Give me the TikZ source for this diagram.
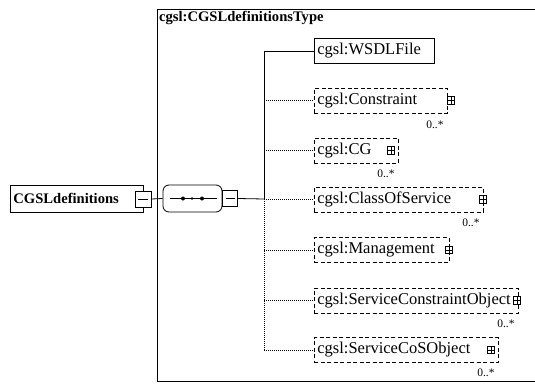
\documentclass[tikz,border=0pt]{standalone}
\usepackage{fontspec}
\setmainfont{Liberation Serif}
\begin{document}
\begin{tikzpicture}[x=1pt,y=-1pt,
  every node/.style={inner sep=0pt},
  conn/.style={line width=0.8pt},
  optconn/.style={line width=0.8pt, dash pattern=on 1pt off 1pt},
  elbox/.style={draw, line width=0.8pt, minimum height=25pt, anchor=west, inner xsep=3pt, align=left, font=\fontsize{16.5}{18}\selectfont},
  optbox/.style={elbox, dash pattern=on 4pt off 2.5pt},
  plusicon/.style={draw, fill=white, line width=0.7pt, minimum size=7.5pt,
    path picture={\draw[line width=0.6pt] (path picture bounding box.north) -- (path picture bounding box.south)
      (path picture bounding box.west) -- (path picture bounding box.east);}},
  minusbox/.style={draw, fill=white, line width=0.8pt, minimum width=15pt, minimum height=16pt,
    path picture={\draw[line width=0.8pt] ([xshift=3pt]path picture bounding box.west) -- ([xshift=-3pt]path picture bounding box.east);}},
  mult/.style={font=\fontsize{11.5}{12}\selectfont, anchor=east},
  boldtext/.style={font=\bfseries\fontsize{14.6}{16}\selectfont}
]
\useasboundingbox (0,0) rectangle (535,383);
% outer complex type box
\draw[conn] (540,9) -- (157,9) -- (157,381) -- (540,381);
\node[boldtext, anchor=base west] (title) at (159,21) {cgsl:CGSLdefinitionsType};

% root element
\node[draw, line width=0.8pt, boldtext, minimum width=133pt, minimum height=27pt, anchor=west,
  inner xsep=3pt, text width=127pt, align=left] (root) at (10,198.5) {CGSLdefinitions};
\node[minusbox, minimum width=16pt] (rm) at (143,199) {};

% sequence compositor
\node[draw, line width=0.8pt, rounded corners=6pt, minimum width=59pt, minimum height=27pt] (seq) at (192.5,198.5) {};
\node[minusbox, anchor=west] (sm) at (seq.east) {};
\draw[conn] ([xshift=7pt]seq.west) -- ([xshift=-5pt]seq.east);
\fill ([xshift=-9.5pt]seq.center) circle (2pt);
\fill ([xshift=-0.5pt]seq.center) circle (1.4pt);
\fill ([xshift=9.5pt]seq.center) circle (2pt);

\coordinate (J) at (264,199);
\draw[conn] (rm.east) -- (seq.west);
\draw[conn] (sm.east) -- (J);

% children
\node[elbox, text width=114pt] (ws) at (314,51) {cgsl:WSDLFile};
\node[optbox, text width=127pt] (con) at (314,100.5) {cgsl:Constraint};
\node[optbox, text width=78pt] (cg) at (314,150.5) {cgsl:CG};
\node[optbox, text width=163pt] (cls) at (314,199.5) {cgsl:ClassOfService};
\node[optbox, text width=129pt] (mgmt) at (314,250) {cgsl:Management};
\node[optbox, text width=198pt] (sco) at (314,300.5) {cgsl:ServiceConstraintObject};
\node[optbox, text width=178pt] (scos) at (314,350) {cgsl:ServiceCoSObject};

% vertical connector
\draw[conn] (J |- ws.west) -- (J);
\draw[optconn] (J) -- (J |- scos.west);
\draw[conn] (J |- ws.west) -- (ws.west);
\draw[optconn] (J |- con.west) -- (con.west);
\draw[optconn] (J |- cg.west) -- (cg.west);
\draw[optconn] (J |- cls.west) -- (cls.west);
\draw[optconn] (J |- mgmt.west) -- (mgmt.west);
\draw[optconn] (J |- sco.west) -- (sco.west);
\draw[optconn] (J |- scos.west) -- (scos.west);

% expand icons
\node[plusicon] (pcon) at (451,100.5) {};
\node[plusicon] (pcg) at (391,150.5) {};
\node[plusicon] (pcls) at (483,199.5) {};
\node[plusicon] (pmgmt) at (449,250) {};
\node[plusicon] (psco) at (517,300.5) {};
\node[plusicon] (pscos) at (491,350) {};

% multiplicities
\node[mult] (mcon) at ([xshift=-4pt,yshift=-11pt]con.south east) {0..*};
\node[mult] (mcg) at ([xshift=-4pt,yshift=-10pt]cg.south east) {0..*};
\node[mult] (mcls) at ([xshift=-4pt,yshift=-10.5pt]cls.south east) {0..*};
\node[mult] (msco) at ([xshift=-4pt,yshift=-10pt]sco.south east) {0..*};
\node[mult] (mscos) at ([xshift=-4pt,yshift=-9.5pt]scos.south east) {0..*};
\end{tikzpicture}
\end{document}
